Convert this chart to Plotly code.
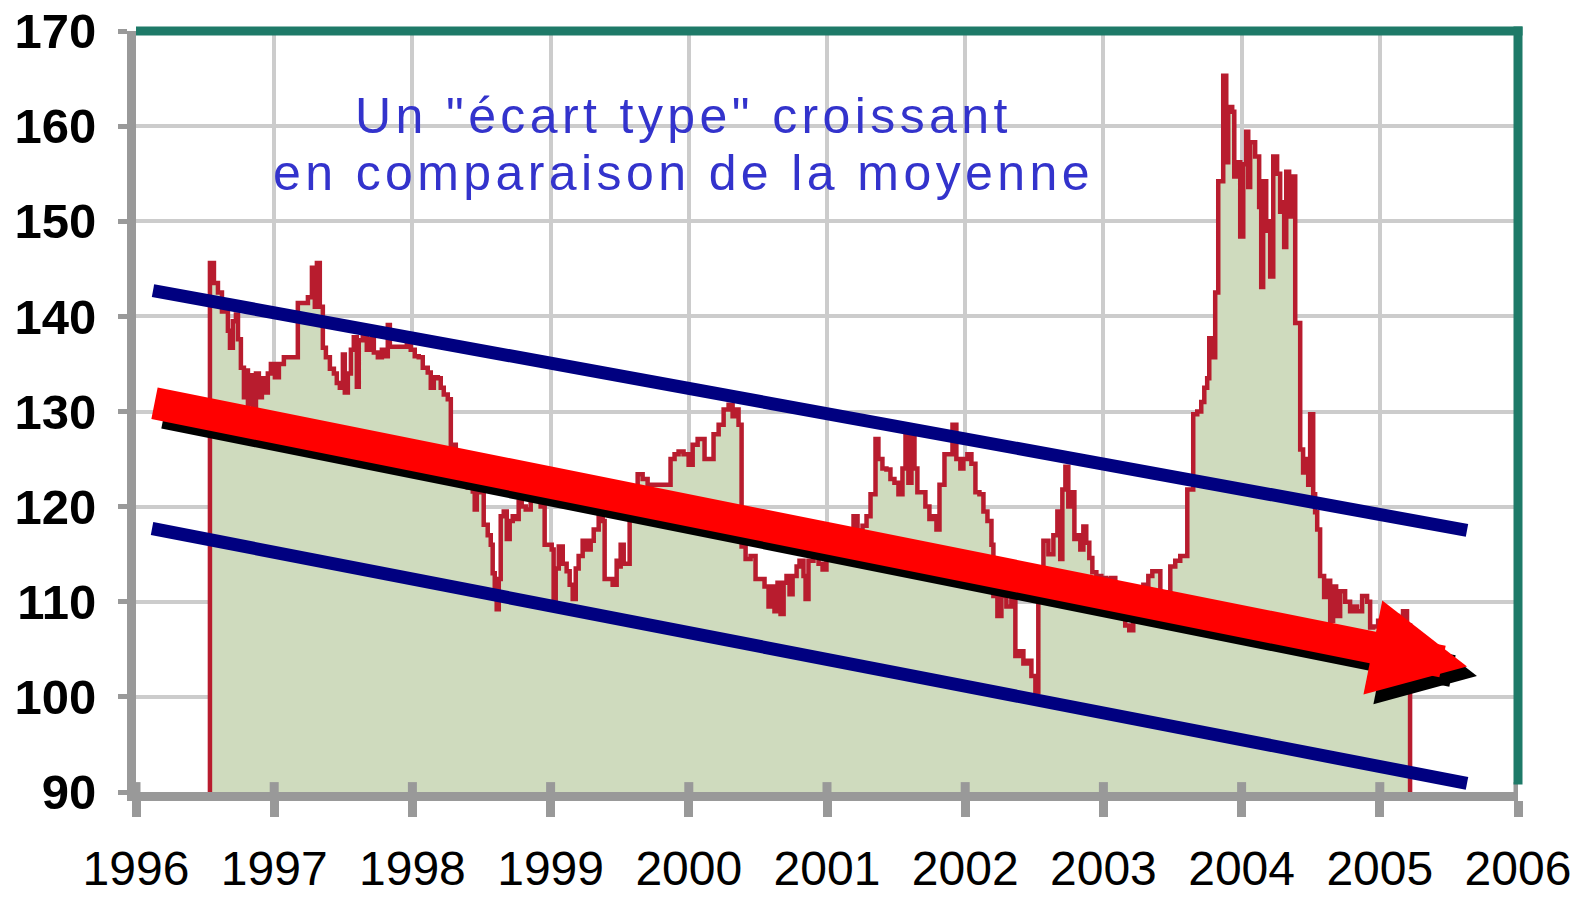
import plotly.graph_objects as go

# Weekly index, decimal years
YEARS_1996 = [1996.535, 1996.535, 1996.564, 1996.593, 1996.622, 1996.644, 1996.665, 1996.680,
              1996.701, 1996.723, 1996.738, 1996.759, 1996.781, 1996.795, 1996.810, 1996.832,
              1996.846, 1996.868, 1996.889, 1996.911, 1996.933, 1996.954, 1996.976]
INDEX_1996 = [90.0, 145.6, 143.5, 142.5, 140.5, 141.5, 138.5, 136.7,
              139.5, 140.2, 137.6, 134.6, 131.5, 134.3, 130.8, 133.8,
              130.5, 134.0, 131.5, 133.5, 132.0, 134.0, 135.0]

YEARS_1997 = [1997.005, 1997.034, 1997.070, 1997.121, 1997.171, 1997.208, 1997.244, 1997.273,
              1997.294, 1997.309, 1997.330, 1997.352, 1997.374, 1997.403, 1997.432, 1997.453,
              1997.475, 1997.497, 1997.511, 1997.533, 1997.555, 1997.576, 1997.598, 1997.612,
              1997.641, 1997.670, 1997.692, 1997.721, 1997.750, 1997.779, 1997.808, 1997.822,
              1997.837, 1997.880, 1997.923, 1997.960, 1997.988]
INDEX_1997 = [133.6, 135.0, 135.7, 135.7, 141.4, 141.4, 142.0, 145.1,
              141.0, 145.6, 141.0, 136.7, 135.7, 134.5, 134.0, 133.0,
              132.5, 136.0, 132.0, 134.0, 136.5, 137.8, 132.6, 137.5,
              137.9, 136.5, 137.6, 136.2, 135.7, 136.5, 135.8, 139.1,
              136.8, 136.8, 136.8, 137.0, 136.5]

YEARS_1998 = [1998.017, 1998.046, 1998.075, 1998.111, 1998.133, 1998.155, 1998.184, 1998.205,
              1998.227, 1998.256, 1998.278, 1998.314, 1998.357, 1998.401, 1998.437, 1998.451,
              1998.466, 1998.495, 1998.516, 1998.545, 1998.567, 1998.581, 1998.596, 1998.610,
              1998.625, 1998.639, 1998.661, 1998.683, 1998.704, 1998.726, 1998.748, 1998.769,
              1998.791, 1998.820, 1998.856, 1998.892, 1998.928, 1998.957, 1998.986]
INDEX_1998 = [135.8, 135.7, 134.6, 134.1, 132.5, 133.6, 133.5, 132.5,
              131.8, 131.3, 126.5, 125.0, 123.5, 122.0, 121.6, 119.7,
              121.5, 121.5, 118.1, 117.0, 116.0, 113.0, 111.5, 109.2,
              112.4, 119.0, 119.5, 116.6, 118.5, 119.0, 118.7, 120.5,
              120.0, 119.7, 121.0, 121.0, 120.0, 116.0, 116.0]

YEARS_1999 = [1999.008, 1999.022, 1999.037, 1999.059, 1999.088, 1999.116, 1999.138, 1999.160,
              1999.182, 1999.203, 1999.232, 1999.261, 1999.290, 1999.312, 1999.348, 1999.377,
              1999.391, 1999.420, 1999.449, 1999.478, 1999.500, 1999.507, 1999.529, 1999.558,
              1999.572, 1999.601, 1999.630, 1999.666, 1999.702, 1999.746, 1999.796, 1999.840,
              1999.868, 1999.897, 1999.926, 1999.962, 1999.999]
INDEX_1999 = [115.5, 110.3, 113.5, 115.8, 114.0, 113.2, 111.8, 110.3,
              113.5, 114.8, 116.4, 115.5, 116.4, 117.6, 118.9, 118.5,
              112.4, 112.4, 111.8, 114.3, 113.7, 116.0, 114.0, 114.0,
              118.7, 121.0, 123.4, 122.9, 122.3, 122.3, 122.3, 122.3,
              125.0, 125.5, 125.8, 125.5, 124.4]

YEARS_2000 = [2000.028, 2000.064, 2000.093, 2000.114, 2000.150, 2000.179, 2000.216, 2000.252,
              2000.288, 2000.317, 2000.338, 2000.360, 2000.382, 2000.411, 2000.447, 2000.483,
              2000.519, 2000.548, 2000.577, 2000.599, 2000.620, 2000.642, 2000.664, 2000.686,
              2000.707, 2000.729, 2000.751, 2000.780, 2000.801, 2000.830, 2000.845, 2000.866,
              2000.902, 2000.939, 2000.968, 2000.996]
INDEX_2000 = [126.5, 127.1, 127.1, 125.0, 125.0, 127.6, 128.6, 130.2,
              130.7, 129.5, 130.2, 128.6, 115.8, 114.5, 114.8, 112.4,
              112.4, 111.6, 109.5, 111.6, 109.0, 112.0, 108.7, 112.0,
              112.7, 110.8, 112.7, 113.7, 114.3, 112.7, 110.3, 114.3,
              115.0, 114.0, 113.4, 115.0]

YEARS_2001 = [2001.025, 2001.061, 2001.098, 2001.134, 2001.170, 2001.192, 2001.221, 2001.257,
              2001.286, 2001.315, 2001.351, 2001.372, 2001.401, 2001.430, 2001.459, 2001.488,
              2001.517, 2001.546, 2001.568, 2001.589, 2001.611, 2001.633, 2001.654, 2001.683,
              2001.712, 2001.741, 2001.770, 2001.792, 2001.814, 2001.850, 2001.879, 2001.908,
              2001.936, 2001.965, 2001.987]
INDEX_2001 = [115.0, 116.0, 116.5, 117.0, 117.5, 119.0, 117.5, 118.0,
              119.0, 121.3, 127.1, 125.0, 124.0, 123.9, 122.9, 122.5,
              121.3, 124.0, 127.4, 122.5, 127.4, 124.0, 121.5, 121.5,
              120.0, 118.7, 119.0, 117.6, 122.3, 125.5, 125.5, 128.6,
              125.0, 124.0, 125.0]

YEARS_2002 = [2002.016, 2002.045, 2002.074, 2002.103, 2002.132, 2002.161, 2002.190, 2002.204,
              2002.233, 2002.262, 2002.298, 2002.334, 2002.363, 2002.392, 2002.421, 2002.450,
              2002.479, 2002.508, 2002.529, 2002.566, 2002.602, 2002.638, 2002.667, 2002.688,
              2002.703, 2002.725, 2002.746, 2002.768, 2002.790, 2002.811, 2002.833, 2002.855,
              2002.876, 2002.898, 2002.920, 2002.949, 2002.985]
INDEX_2002 = [125.5, 124.5, 121.5, 121.3, 119.5, 118.5, 116.0, 110.6,
              108.5, 110.6, 109.5, 110.3, 104.3, 104.8, 103.5, 103.8,
              102.2, 100.5, 113.0, 116.4, 115.0, 117.0, 119.5, 114.5,
              121.8, 124.2, 120.0, 121.5, 116.6, 117.0, 115.5, 117.9,
              116.2, 114.6, 113.1, 112.7, 112.5]

YEARS_2003 = [2003.021, 2003.057, 2003.086, 2003.122, 2003.158, 2003.187, 2003.216, 2003.252,
              2003.289, 2003.325, 2003.354, 2003.383, 2003.412, 2003.448, 2003.484, 2003.520,
              2003.556, 2003.585, 2003.607, 2003.628, 2003.650, 2003.679, 2003.708, 2003.730,
              2003.751, 2003.766, 2003.787, 2003.809, 2003.831, 2003.867, 2003.889, 2003.903,
              2003.932, 2003.947, 2003.968, 2003.990]
INDEX_2003 = [112.4, 112.5, 111.0, 110.5, 107.5, 107.0, 110.0, 110.0,
              111.8, 112.7, 113.2, 113.2, 111.0, 111.0, 113.7, 114.3,
              114.8, 114.8, 121.8, 121.8, 129.7, 130.0, 131.0, 132.5,
              133.5, 137.7, 135.7, 142.5, 154.2, 165.3, 156.2, 162.0,
              161.5, 154.7, 156.2, 148.4]

YEARS_2004 = [2004.012, 2004.033, 2004.048, 2004.062, 2004.098, 2004.127, 2004.142, 2004.156,
              2004.178, 2004.192, 2004.207, 2004.229, 2004.257, 2004.279, 2004.294, 2004.308,
              2004.323, 2004.344, 2004.359, 2004.388, 2004.424, 2004.445, 2004.460, 2004.482,
              2004.496, 2004.518, 2004.532, 2004.547, 2004.568, 2004.597, 2004.619, 2004.641,
              2004.662, 2004.684, 2004.713, 2004.749, 2004.785, 2004.814, 2004.836, 2004.872,
              2004.908, 2004.930, 2004.952, 2004.988]
INDEX_2004 = [156.0, 159.4, 153.6, 158.3, 156.8, 151.5, 143.1, 154.2,
              149.0, 150.0, 144.2, 156.8, 155.0, 151.0, 152.0, 147.3,
              155.2, 150.5, 154.7, 139.3, 126.0, 123.6, 125.0, 122.3,
              129.7, 121.3, 119.4, 117.6, 112.7, 110.5, 112.2, 108.0,
              111.6, 108.5, 111.1, 110.0, 109.0, 109.5, 109.0, 110.6,
              110.0, 107.3, 107.4, 108.0]

YEARS_2005 = [2005.024, 2005.060, 2005.096, 2005.132, 2005.168, 2005.197, 2005.219]
INDEX_2005 = [107.5, 108.0, 108.5, 108.0, 109.0, 107.5, 90.0]

# Hand-drawn overlays (channel and trend arrow), in data units
UPPER_BAND_X = [1996.123, 2005.631]
UPPER_BAND_Y = [142.7, 117.5]
LOWER_BAND_X = [1996.116, 2005.631]
LOWER_BAND_Y = [117.7, 90.9]
TREND_TAIL = [1996.123, 130.9]
TREND_TIP = [2005.631, 103.2]
SHADOW_TAIL = [1996.195, 129.9]
SHADOW_TIP = [2005.703, 102.2]

X_TICKS = [1996, 1997, 1998, 1999, 2000, 2001, 2002, 2003, 2004, 2005, 2006]
Y_TICKS = [90, 100, 110, 120, 130, 140, 150, 160, 170]

NOTE_LINE_1 = 'Un "écart type" croissant'
NOTE_LINE_2 = "en comparaison de la moyenne"

LINE_RED = "#b81c2e"
FILL_GREEN = "#cfdbbe"
NAVY = "#000080"
ARROW_RED = "#ff0000"
AXIS_GRAY = "#999999"
GRID_GRAY = "#cccccc"
FRAME_TEAL = "#1e7a68"
TEXT_BLUE = "#3333cc"
SANS = "Liberation Sans, Arial, sans-serif"

years = (YEARS_1996 + YEARS_1997 + YEARS_1998 + YEARS_1999 + YEARS_2000
         + YEARS_2001 + YEARS_2002 + YEARS_2003 + YEARS_2004 + YEARS_2005)
index = (INDEX_1996 + INDEX_1997 + INDEX_1998 + INDEX_1999 + INDEX_2000
         + INDEX_2001 + INDEX_2002 + INDEX_2003 + INDEX_2004 + INDEX_2005)

fig = go.Figure()

fig.add_trace(go.Scatter(
    x=years, y=index,
    mode="lines",
    line=dict(color=LINE_RED, width=4.5, shape="hv"),
    fill="tozeroy",
    fillcolor=FILL_GREEN,
    hoverinfo="skip",
))

for bx, by in [(UPPER_BAND_X, UPPER_BAND_Y), (LOWER_BAND_X, LOWER_BAND_Y)]:
    fig.add_trace(go.Scatter(
        x=bx, y=by,
        mode="lines",
        line=dict(color=NAVY, width=13),
        hoverinfo="skip",
    ))

# shadow first, red arrow on top
for tail, tip, color in [(SHADOW_TAIL, SHADOW_TIP, "black"), (TREND_TAIL, TREND_TIP, ARROW_RED)]:
    fig.add_annotation(
        x=tip[0], y=tip[1], ax=tail[0], ay=tail[1],
        xref="x", yref="y", axref="x", ayref="y",
        text="", showarrow=True,
        arrowhead=2, arrowsize=0.6, arrowwidth=32,
        arrowcolor=color, standoff=0,
    )

for text, ypos in [(NOTE_LINE_1, 0.888), (NOTE_LINE_2, 0.813)]:
    fig.add_annotation(
        x=0.396, y=ypos, xref="paper", yref="paper",
        text='<span style="letter-spacing:4.4px">' + text + "</span>",
        showarrow=False,
        font=dict(family=SANS, size=50, color=TEXT_BLUE),
        xanchor="center", yanchor="middle",
    )

# inner half of the x tick marks (they cross the axis line)
for yr in X_TICKS:
    fig.add_shape(type="line", xref="x", yref="paper",
                  x0=yr, x1=yr, y0=0, y1=0.013,
                  line=dict(color=AXIS_GRAY, width=9))

# teal frame on top and right
fig.add_shape(type="line", xref="paper", yref="paper", x0=0, x1=1.0033, y0=1, y1=1,
              line=dict(color=FRAME_TEAL, width=9))
fig.add_shape(type="line", xref="paper", yref="paper", x0=1, x1=1, y0=0.01, y1=1.006,
              line=dict(color=FRAME_TEAL, width=9))

fig.update_layout(
    width=1579, height=898,
    margin=dict(l=136, r=61, t=31, b=106, autoexpand=False),
    paper_bgcolor="white",
    plot_bgcolor="white",
    showlegend=False,
    xaxis=dict(
        range=[1996, 2006],
        tickvals=X_TICKS,
        ticktext=[str(y) for y in X_TICKS],
        ticks="outside", ticklen=16, tickwidth=9, tickcolor=AXIS_GRAY,
        showline=True, linecolor=AXIS_GRAY, linewidth=9,
        showgrid=True, gridcolor=GRID_GRAY, gridwidth=4,
        zeroline=False, automargin=False,
        tickfont=dict(family=SANS, size=48, color="black"),
        ticklabelstandoff=10,
        ticklabeloverflow="allow",
    ),
    yaxis=dict(
        range=[90, 170],
        tickvals=Y_TICKS,
        ticks="outside", ticklen=9, tickwidth=5, tickcolor=AXIS_GRAY,
        showline=True, linecolor=AXIS_GRAY, linewidth=9,
        showgrid=True, gridcolor=GRID_GRAY, gridwidth=4,
        zeroline=False, automargin=False,
        tickfont=dict(family=SANS, size=49, color="black", weight="bold"),
        ticklabelstandoff=12,
        ticklabeloverflow="allow",
    ),
)

# drop the default body margin so the figure sits at the page origin
fig.write_html(
    "out.html",
    config={"displayModeBar": False},
    post_script="document.body.style.margin='0';",
)
